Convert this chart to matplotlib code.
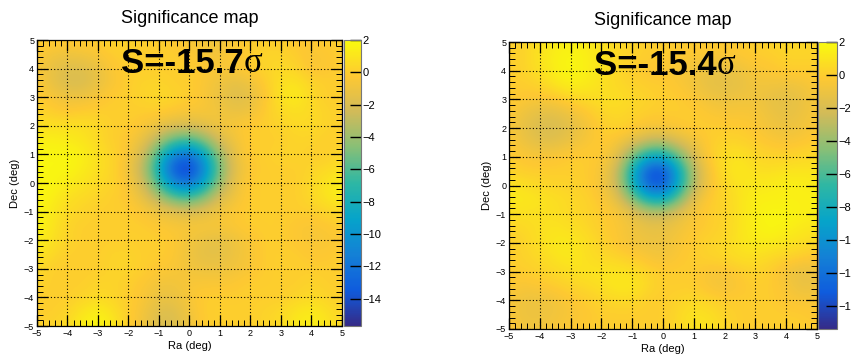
import numpy as np
import matplotlib
matplotlib.use("Agg")
import matplotlib.pyplot as plt
from matplotlib.colors import LinearSegmentedColormap

plt.rcParams['font.family'] = ['Liberation Sans', 'DejaVu Sans']

# ROOT kBird palette
bird_stops = [
    (0.2082, 0.1664, 0.5293), (0.0592, 0.3599, 0.8684), (0.0780, 0.5041, 0.8385),
    (0.0232, 0.6419, 0.7914), (0.1802, 0.7178, 0.6425), (0.5301, 0.7492, 0.4662),
    (0.8186, 0.7328, 0.3499), (0.9956, 0.7862, 0.1968), (0.9764, 0.9832, 0.0539),
]
bird = LinearSegmentedColormap.from_list("bird", bird_stops)

# grid of the maps: Ra / Dec nodes every 0.5 deg, rows run from Dec=+5 down to Dec=-5
ra_nodes = [-5.0, -4.5, -4.0, -3.5, -3.0, -2.5, -2.0, -1.5, -1.0, -0.5, 0.0,
            0.5, 1.0, 1.5, 2.0, 2.5, 3.0, 3.5, 4.0, 4.5, 5.0]
dec_nodes = ra_nodes[::-1]

# significance
sig_left = [
    [0, 0, 0, 0, 0, 0.3, 0.3, 0, 0, -0.3, -0.5, -0.8, -1, -0.5, 0, 0, 0, -0.3, -0.3, 0, 0],
    [-0.3, -0.8, -1, -0.8, -0.5, 0, 0, 0, 0, 0, -0.3, -0.5, -0.8, -0.3, 0, 0.3, 0.3, 0, -0.5, -0.3, 0],
    [-0.5, -1.3, -1.8, -1.8, -1.2, -0.3, 0, 0, 0, 0, 0, -0.3, -0.5, -0.3, 0, 0.3, 0.5, 0.3, -0.5, -0.3, 0],
    [-0.3, -1.3, -2, -2, -1.3, -0.5, 0, 0.3, 0.3, 0, 0, -0.5, -1, -1.5, -1, 0, 0.8, 1, 0.3, 0, 0],
    [0, -0.5, -1, -1, -0.5, 0, 0, 0.3, 0.5, 0.3, 0, -0.5, -1.2, -1.8, -1.5, -0.3, 1, 1.3, 0.5, 0, 0],
    [0.3, 0, -0.3, 0, 0, 0, 0, 0, 0, -0.3, -0.5, -0.5, -0.8, -1.2, -1, 0, 0.5, 0.8, 0.5, 0.3, 0],
    [0.8, 0.8, 0.8, 0.8, 0.5, 0, 0, -0.5, -1.2, -1.9, -2, -1.5, -0.8, -0.5, 0, 0, 0.3, 0.5, 0.5, 0.3, 0],
    [1.5, 1.5, 1.3, 1, 0.5, 0, -0.3, -1.3, -3.5, -5.8, -6.4, -4.6, -2, -0.8, 0, 0, 0, 0.3, 0.3, 0, 0],
    [1.8, 1.8, 1.8, 1.5, 0.8, 0.3, -0.5, -2.5, -6.6, -11.2, -12.3, -8.8, -4, -1.2, 0, 0, 0.3, 0.3, 0, 0, 0.5],
    [1.8, 1.8, 1.8, 1.3, 0.8, 0.3, -0.9, -3.2, -8.3, -14, -15.3, -10.7, -5, -1.5, -0.3, 0, 0, 0, 0.3, 0.5, 0.8],
    [1.8, 1.8, 1.3, 1, 0.5, 0.3, -0.5, -2.5, -6.6, -11.2, -12.3, -8.8, -4, -1.2, 0, 0, 0, 0, 0.5, 1, 1.5],
    [1.8, 1.5, 0.8, 0.5, 0.3, 0, -0.3, -1.3, -3.5, -5.8, -6.4, -4.6, -2, -0.8, 0, 0, 0, 0, 0.5, 1, 1.5],
    [1.8, 1.2, 0.5, 0.3, 0, 0, 0, -0.5, -1, -1.5, -2, -1.5, -0.8, -0.3, 0, 0, 0, 0, 0, 0.3, 0.5],
    [1.8, 1, 0.3, 0, 0, 0, 0, 0, -0.3, -0.5, -0.5, -0.5, -0.5, -0.3, 0, 0, 0, -0.3, -0.5, -0.3, 0],
    [1.5, 0.8, 0.3, 0, 0, 0, 0, 0, 0, -0.3, -0.8, -1.3, -1.5, -1, -0.5, 0, 0, -0.3, -0.5, -0.5, -0.3],
    [1, 0.5, 0, 0, 0, 0.3, 0.3, 0, 0, -0.3, -1, -1.5, -1.5, -1, -0.5, 0, 0, 0, -0.3, -0.3, 0],
    [0.5, 0, 0, 0, 0, 0.3, 0.3, 0, -0.3, -0.5, -0.8, -1, -1, -0.8, -0.5, 0, 0, 0, 0, 0, 0],
    [0.3, 0, 0, 0, 0.3, 0.3, 0, -0.3, -0.8, -0.8, -0.5, -0.5, -0.5, -0.3, 0, 0, 0, 0, 0.3, 0, 0],
    [0, 0, 0, 0.3, 0.5, 0.3, 0, -0.5, -1.2, -1.2, -0.5, 0, 0, 0, 0, 0, 0, 0.3, 0.5, 0.3, 0],
    [0, 0, 0.3, 1, 1.5, 0.8, 0, -0.8, -1.8, -1.8, -0.8, 0, 0, 0, 0, 0.3, 0.5, 1, 1.3, 0.8, 0.3],
    [0, 0.3, 0.5, 1.5, 1.8, 1.2, 0, -1, -2, -2, -1, 0, 0, 0, 0, 0.3, 0.5, 1.2, 1.5, 1, 0.5],
]

# significance
sig_right = [
    [0, 0.3, 0.8, 1.3, 1.5, 1.3, 0.8, 0.5, 0.3, 0, 0, 0, 0, 0, 0, 0, 0, 0.3, 0.5, 0.5, 0.3],
    [0, 0.3, 1, 1.5, 1.8, 1.5, 1, 0.5, 0.3, 0, 0, -0.3, -0.3, -0.5, -0.5, -0.3, 0, 0, 0.3, 0.3, 0.3],
    [0, 0.3, 0.8, 1.5, 1.8, 1.5, 1, 0.5, 0, -0.3, -0.3, -0.5, -0.8, -1.2, -1.3, -1, -0.5, -0.3, 0, 0, 0],
    [0, 0, 0.3, 1, 1.5, 1.3, 0.8, 0.5, 0.3, 0, 0, -0.3, -0.8, -1.3, -1.5, -1.3, -0.8, -0.8, -1, -0.8, -0.3],
    [0, -0.3, -0.5, -0.3, 0.3, 0.5, 0.8, 0.8, 0.5, 0.3, 0, 0, -0.3, -0.8, -1, -0.8, -0.8, -1.3, -1.5, -1.2, -0.5],
    [-0.3, -1, -1.5, -1.5, -1, -0.3, 0.3, 0.5, 0.3, 0, 0, 0, 0, -0.3, -0.5, -0.5, -0.5, -1, -1.3, -1, -0.5],
    [-0.5, -1.3, -2, -2, -1.5, -0.8, 0, 0.3, 0, -0.6, -0.6, -0.3, 0, 0, 0, 0, -0.3, -0.8, -1, -0.8, -0.3],
    [-0.3, -1, -1.5, -1.5, -1, -0.5, 0, -0.6, -1.7, -3.1, -3.3, -2, -1, 0, 0.3, 0.3, 0, -0.3, -0.5, -0.3, 0],
    [0, -0.3, -0.5, -0.3, 0, 0, -0.2, -1.4, -5, -8.4, -8.7, -5.6, -2, 0, 0.8, 1, 0.5, 0.3, 0.3, 0.5, 0.5],
    [0.3, 0, 0, 0, 0, 0, -0.5, -2.5, -7.8, -13.5, -14.3, -8.7, -3.3, -0.5, 0.8, 1.2, 0.8, 0.8, 1, 1, 1],
    [1, 0.8, 0.5, 0.3, 0.3, 0, -0.5, -2.4, -7.4, -12.8, -13.5, -8.4, -3.1, -0.5, 0.5, 1, 1.2, 1.3, 1.5, 1.5, 1.3],
    [1.2, 1.2, 1, 0.8, 0.5, 0.3, -0.3, -1.2, -4.2, -7.4, -7.8, -5, -1.3, 0, 0.3, 1, 1.5, 1.5, 1.5, 1.5, 1.5],
    [0.8, 0.8, 0.8, 0.8, 0.5, 0.3, 0, -0.4, -1.2, -2.4, -2.5, -1.4, -0.5, 0, 0.3, 1, 1.5, 1.8, 1.8, 1.5, 1.5],
    [0.3, 0.5, 0.8, 1, 0.8, 0.5, 0, -0.3, -0.8, -1.2, -1.2, -0.8, -0.3, 0, 0.3, 1, 1.5, 1.8, 1.5, 1.2, 1],
    [0, 0.3, 0.8, 1.2, 1.2, 0.8, 0.3, -0.3, -0.8, -1, -1, -0.5, 0, 0.3, 0.5, 1, 1.3, 1.3, 1, 0.8, 0.5],
    [0, 0.3, 0.5, 1, 1.2, 0.8, 0.5, 0.3, 0, -0.5, -0.8, -0.3, 0, 0.3, 0.5, 0.8, 0.8, 0.5, 0.3, 0, -0.3],
    [0, 0, 0.3, 0.5, 0.8, 1, 1, 1, 0.8, 0.3, 0, 0, 0, -0.5, -0.5, 0, 0.3, 0, -0.8, -1.3, -1],
    [-0.3, -0.5, -0.3, 0, 0.3, 0.5, 0.8, 1.2, 1.2, 0.5, 0, 0, 0, -0.5, -0.8, -0.3, 0, 0, -0.5, -1.2, -1],
    [-0.5, -1, -1, -0.8, -0.3, 0, 0.3, 0.5, 0.5, 0, 0, 0.3, 0.5, 0.3, 0, 0, 0, 0, -0.3, -0.5, -0.5],
    [-0.5, -1, -1, -0.8, -0.5, -0.3, 0, 0, 0, 0, 0, 0.5, 1, 0.8, 0.3, 0, 0, 0, 0, 0, -0.3],
    [-0.3, -0.8, -0.8, -0.5, -0.3, 0, 0, 0, 0, 0, 0, 0.5, 1, 1, 0.5, 0, 0, 0, 0, 0, 0],
]

sig_labels = ["S=-15.7", "S=-15.4"]
z_ranges = [(-15.7, 2.0), (-15.4, 2.0)]
cbar_ticks = [2, 0, -2, -4, -6, -8, -10, -12, -14]
axis_ticks = [-5, -4, -3, -2, -1, 0, 1, 2, 3, 4, 5]

W, H = 851, 358
fig = plt.figure(figsize=(W / 100, H / 100), dpi=100)

# panel boxes in pixels: (left, top, right, bottom), colorbar (left, right)
panels = [((37, 40, 342, 326), (344, 361)),
          ((509, 42, 817, 329), (818, 837))]


def px_axes(l, t, r, b):
    return fig.add_axes([l / W, 1 - b / H, (r - l) / W, (b - t) / H])


for data, label, (zmin, zmax), (box, cb) in zip([sig_left, sig_right], sig_labels, z_ranges, panels):
    l, t, r, b = box
    ax = px_axes(l, t, r, b)
    half = 0.5 * (ra_nodes[1] - ra_nodes[0])
    im = ax.imshow(np.array(data), cmap=bird, vmin=zmin, vmax=zmax, origin='upper',
                   extent=[ra_nodes[0] - half, ra_nodes[-1] + half,
                           dec_nodes[-1] - half, dec_nodes[0] + half],
                   interpolation='bicubic', aspect='auto')
    ax.set_xlim(-5, 5)
    ax.set_ylim(-5, 5)
    ax.set_xticks(axis_ticks)
    ax.set_yticks(axis_ticks)
    ax.set_xticks(np.arange(-5, 5.01, 0.2), minor=True)
    ax.set_yticks(np.arange(-5, 5.01, 0.2), minor=True)
    ax.tick_params(which='both', direction='in', top=True, right=True, labelsize=6.5, pad=2)
    ax.tick_params(which='major', length=8, width=0.9)
    ax.tick_params(which='minor', length=4, width=0.7)
    ax.grid(True, which='major', color='black', linestyle=(0, (1, 2)), linewidth=0.8)
    ax.set_axisbelow(False)
    for s in ax.spines.values():
        s.set_linewidth(0.9)
    ax.set_xlabel("Ra (deg)", fontsize=8, labelpad=2)
    ax.set_ylabel("Dec (deg)", fontsize=8, labelpad=3)
    ax.set_title("Significance map", fontsize=13, pad=12)

    txt = ax.text(0.275, 0.885, label, transform=ax.transAxes, fontsize=25,
                  fontweight='bold', ha='left', va='baseline')
    ax.annotate("σ", xy=(1, 0), xycoords=txt, fontsize=25, ha='left', va='bottom',
                family=['Liberation Serif', 'DejaVu Serif'])

    cax = px_axes(cb[0], t, cb[1], b)
    cbar = fig.colorbar(im, cax=cax)
    cbar.set_ticks(cbar_ticks)
    cbar.outline.set_edgecolor('#777777')
    cbar.outline.set_linewidth(0.8)
    cax.tick_params(direction='in', length=8, width=1.0, labelsize=8, pad=1)

fig.savefig("out.png", dpi=100)
